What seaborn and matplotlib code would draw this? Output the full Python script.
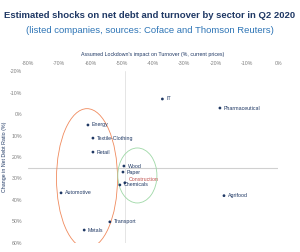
import matplotlib
matplotlib.use("Agg")
import matplotlib.pyplot as plt
from matplotlib.patches import Ellipse
import seaborn as sns
import pandas as pd

# sector data (x: turnover impact %, y: change in net debt ratio %)
sectors = ["IT", "Pharmaceutical", "Energy", "Textile-Clothing", "Retail", "Wood",
           "Paper", "Construction", "Chemicals", "Automotive", "Transport", "Metals",
           "Agrifood"]
turnover = [-37, -18.6, -60.8, -59.2, -59.2, -49.3, -49.6, -49.0, -50.6, -69.4,
            -53.8, -62.0, -17.3]
net_debt = [-7, -2.8, 5.1, 11.2, 17.7, 24.2, 27.0, 32.0, 33.0, 36.7, 50.2, 54.0, 38.0]

x_ticks = [-80, -70, -60, -50, -40, -30, -20, -10, 0]
y_ticks = [-20, -10, 0, 10, 20, 30, 40, 50, 60]

navy = "#1f3864"
blue = "#2e75b6"

df = pd.DataFrame({"sector": sectors, "turnover": turnover, "net_debt": net_debt})

sns.set_style("white")
plt.rcParams["font.family"] = ["Liberation Sans", "DejaVu Sans"]
fig = plt.figure(figsize=(3.0, 2.52), dpi=100)
ax = fig.add_axes([0.093, 0.036, 0.834, 0.682])

sns.scatterplot(data=df, x="turnover", y="net_debt", ax=ax, color=navy, s=4,
                edgecolor="none", zorder=3)

for s, x, y in zip(df.sector, df.turnover, df.net_debt):
    dy = -1.5 if s == "Construction" else 0
    col = "#c0504d" if s == "Construction" else navy
    ax.text(x + 1.2, y + dy, s, fontsize=3.8, color=col, va="center", ha="left")

ax.axhline(25, color="#d0d0d0", lw=0.8, zorder=1)
ax.axvline(-49, color="#e0e0e0", lw=0.6, zorder=1)

# highlight groups
ax.add_patch(Ellipse((-61.1, 30), 19.5, 65, fill=False, ec="#f08a5d", lw=0.6))
ax.add_patch(Ellipse((-45, 28.6), 12.5, 25.6, fill=False, ec="#9ed8a6", lw=0.6))

ax.set_xlim(-80, 0)
ax.set_ylim(60, -20)
ax.set_xticks(x_ticks)
ax.set_yticks(y_ticks)
ax.set_xticklabels([f"{t}%" for t in x_ticks])
ax.set_yticklabels([f"{t}%" for t in y_ticks])
ax.xaxis.tick_top()
ax.xaxis.set_label_position("top")
ax.tick_params(axis="both", labelsize=3.8, colors="#7f7f7f", length=0, pad=4)
for sp in ax.spines.values():
    sp.set_visible(False)

ax.set_xlabel("Assumed Lockdown's impact on Turnover (%, current prices)",
              fontsize=3.8, color=navy, labelpad=3)
ax.set_ylabel("Change in Net Debt Ratio (%)", fontsize=3.8, color=navy, labelpad=2)

fig.text(0.5, 0.94, "Estimated shocks on net debt and turnover by sector in Q2 2020",
         ha="center", va="center", fontsize=6.8, fontweight="bold", color=navy)
fig.text(0.5, 0.88, "(listed companies, sources: Coface and Thomson Reuters)",
         ha="center", va="center", fontsize=6.8, color=blue)

fig.savefig("out.png", dpi=100)
